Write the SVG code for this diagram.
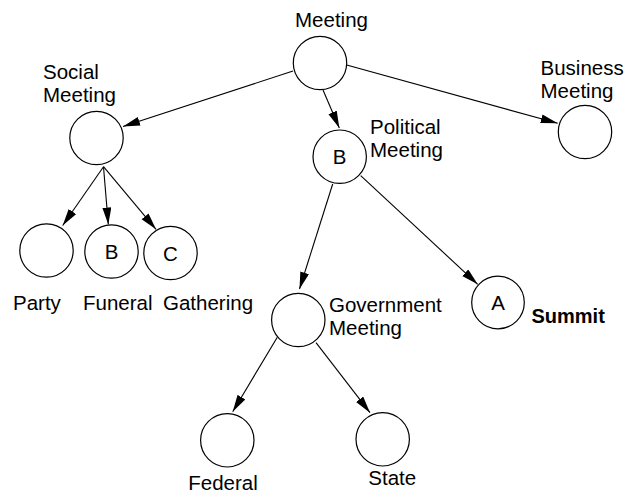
<svg xmlns="http://www.w3.org/2000/svg" width="634" height="493" viewBox="0 0 634 493">
<style>
.n{fill:#fff;stroke:#000;stroke-width:1.2}
.t{font-family:"Liberation Sans",Arial,sans-serif;font-size:20.5px;fill:#000}
.c{text-anchor:middle}
.b{font-weight:bold;font-size:20px}
.e{stroke:#000;stroke-width:1.1;fill:none;marker-end:url(#ah)}
</style>
<defs>
<marker id="ah" markerUnits="userSpaceOnUse" markerWidth="18" markerHeight="10" refX="17" refY="4.5" orient="auto">
<path d="M0,0 L17,4.5 L0,9 z" fill="#000"/>
</marker>
</defs>
<rect width="634" height="493" fill="#fff"/>
<g id="connectors">
<line class="e" x1="293" y1="71" x2="123" y2="126.5"/>
<line class="e" x1="323" y1="90" x2="339.3" y2="128"/>
<line class="e" x1="346.7" y1="65" x2="557.7" y2="123.3"/>
<line class="e" x1="332.7" y1="184" x2="299.5" y2="289"/>
<line class="e" x1="360.7" y1="175.7" x2="477.7" y2="284.3"/>
<line class="e" x1="103.5" y1="166.7" x2="62.7" y2="225.5"/>
<line class="e" x1="103.5" y1="166.7" x2="108.3" y2="224.5"/>
<line class="e" x1="103.5" y1="166.7" x2="156" y2="229.3"/>
<line class="e" x1="277.3" y1="337.3" x2="232.7" y2="411.7"/>
<line class="e" x1="316" y1="342.7" x2="370" y2="412.7"/>
</g>
<g id="meeting">
<circle class="n" cx="320" cy="63" r="26.7"/>
<text class="t" x="295" y="27">Meeting</text>
</g>
<g id="social">
<circle class="n" cx="96.5" cy="138" r="26.7"/>
<text class="t" x="43" y="79">Social</text>
<text class="t" x="43" y="102">Meeting</text>
</g>
<g id="business">
<circle class="n" cx="585" cy="132" r="26.7"/>
<text class="t" x="540.5" y="75">Business</text>
<text class="t" x="540.5" y="98">Meeting</text>
</g>
<g id="political">
<circle class="n" cx="339.7" cy="156.7" r="26.7"/>
<text class="t c" x="339.7" y="164">B</text>
<text class="t" x="370" y="134">Political</text>
<text class="t" x="370" y="157">Meeting</text>
</g>
<g id="party">
<circle class="n" cx="46.5" cy="250.5" r="26.7"/>
<text class="t" x="13" y="310">Party</text>
</g>
<g id="funeral">
<circle class="n" cx="111.5" cy="251.5" r="26.7"/>
<text class="t c" x="111.5" y="259">B</text>
<text class="t" x="83" y="310">Funeral</text>
</g>
<g id="gathering">
<circle class="n" cx="170.5" cy="253" r="26.7"/>
<text class="t c" x="170.5" y="260.5">C</text>
<text class="t" x="163" y="310">Gathering</text>
</g>
<g id="government">
<circle class="n" cx="298.3" cy="320" r="26.7"/>
<text class="t" x="329" y="312">Government</text>
<text class="t" x="329" y="335">Meeting</text>
</g>
<g id="summit">
<circle class="n" cx="498" cy="302.5" r="26.3"/>
<text class="t c" x="498" y="310">A</text>
<text class="t b" x="531.5" y="322.5">Summit</text>
</g>
<g id="federal">
<circle class="n" cx="227.3" cy="440.3" r="26.7"/>
<text class="t" x="188.3" y="490">Federal</text>
</g>
<g id="state">
<circle class="n" cx="382.7" cy="439.3" r="26.7"/>
<text class="t" x="368.3" y="485">State</text>
</g>
</svg>
